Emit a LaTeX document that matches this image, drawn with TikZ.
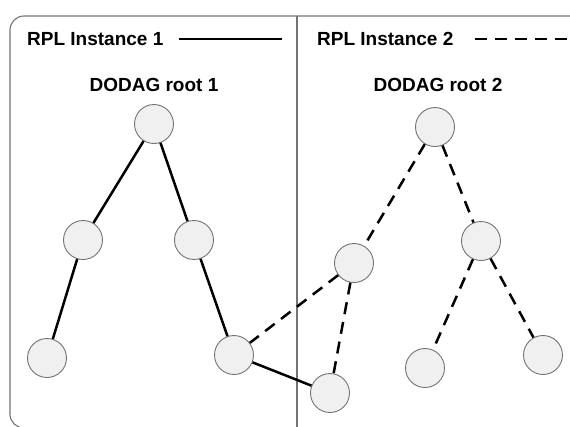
\documentclass[tikz,border=0pt]{standalone}
\usepackage{fontspec}
\setmainfont{Liberation Sans}
\begin{document}
\begin{tikzpicture}[x=1pt,y=-1pt,
  dev/.style={circle,draw=black!55,line width=0.9pt,fill=black!6,minimum size=39pt,inner sep=0pt},
  inst1/.style={line width=2.5pt,black},
  inst2/.style={line width=2.5pt,black,dash pattern=on 12pt off 8pt},
  frame/.style={draw=black!55,line width=1.1pt},
  lbl/.style={font=\bfseries\fontsize{19}{21}\selectfont,inner sep=0pt}]
\useasboundingbox (0,0) rectangle (570,426);
\begin{scope}
\clip (0,0) rectangle (570,426);
% outer frame and divider between the two instances
\draw[frame,rounded corners=14pt] (600,16) -- (10,16) -- (10,428) -- (600,428);
\draw[frame] (297,16) -- (297,430);
\end{scope}
% legend
\node[lbl,anchor=base west] (leg1) at (27,45) {RPL Instance 1};
\node[lbl,anchor=base west] (leg2) at (317,45) {RPL Instance 2};
\coordinate (l1a) at (179,39); \coordinate (l1b) at (282,39);
\coordinate (l2a) at (475,39); \coordinate (l2b) at (570,39);
\draw[inst1] (l1a) -- (l1b);
\draw[inst2] (l2a) -- (l2b);
% root labels
\node[lbl,anchor=base] (t1) at (154,91) {DODAG root 1};
\node[lbl,anchor=base] (t2) at (438,91) {DODAG root 2};
% nodes
\node[dev] (r1) at (154,124) {};
\node[dev] (a) at (83,240) {};
\node[dev] (b) at (194,240) {};
\node[dev] (c) at (47,358) {};
\node[dev] (d) at (234,355) {};
\node[dev] (e) at (330,393) {};
\node[dev] (r2) at (435,127) {};
\node[dev] (f) at (354,263) {};
\node[dev] (g) at (481,241) {};
\node[dev] (h) at (425,368) {};
\node[dev] (i) at (543,355) {};
% instance 1 links
\draw[inst1] (r1) -- (a);
\draw[inst1] (r1) -- (b);
\draw[inst1] (a) -- (c);
\draw[inst1] (b) -- (d);
\draw[inst1] (d) -- (e);
% instance 2 links
\draw[inst2] (r2) -- (f);
\draw[inst2] (r2) -- (g);
\draw[inst2] (f) -- (d);
\draw[inst2] (f) -- (e);
\draw[inst2] (g) -- (h);
\draw[inst2] (g) -- (i);
\end{tikzpicture}
\end{document}
